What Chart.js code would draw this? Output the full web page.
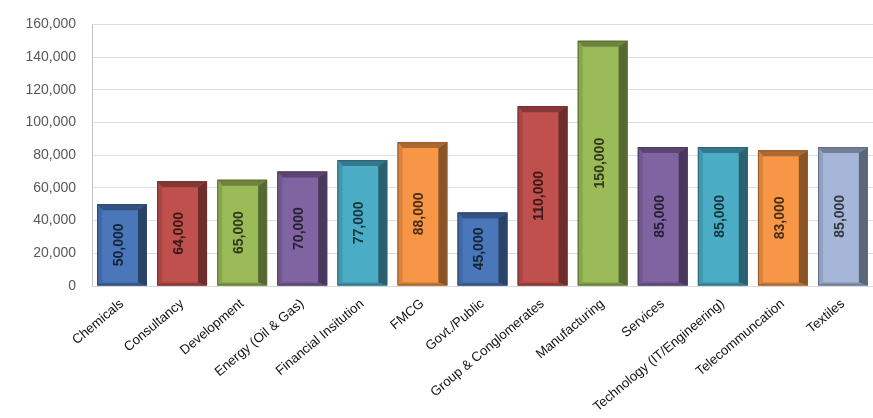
<!DOCTYPE html>
<html>
<head>
<meta charset="utf-8">
<script src="https://cdn.jsdelivr.net/npm/chart.js@4.4.1/dist/chart.umd.min.js"></script>
<style>
  html, body { margin: 0; padding: 0; background: #fff; }
  #wrap { width: 873px; height: 418px; }
</style>
</head>
<body>
<div id="wrap"><canvas id="salaryChart"></canvas></div>
<script>
// average salary by sector
const sectors = ['Chemicals', 'Consultancy', 'Development', 'Energy (Oil & Gas)', 'Financial Insitution',
  'FMCG', 'Govt./Public', 'Group & Conglomerates', 'Manufacturing', 'Services',
  'Technology (IT/Engineering)', 'Telecommuncation', 'Textiles'];
const salaries = [50000, 64000, 65000, 70000, 77000, 88000, 45000, 110000, 150000, 85000, 85000, 83000, 85000];
const barColors = ['#4a76ba', '#c0504d', '#9bbb59', '#8064a2', '#4bacc6', '#f79646',
  '#4a76ba', '#c0504d', '#9bbb59', '#8064a2', '#4bacc6', '#f79646', '#a5b6d8'];
const yMax = 160000;
const yStep = 20000;

function shade(hex, f){
  const n = parseInt(hex.slice(1), 16);
  const r = Math.round(((n >> 16) & 255) * f);
  const g = Math.round(((n >> 8) & 255) * f);
  const b = Math.round((n & 255) * f);
  return 'rgb(' + r + ',' + g + ',' + b + ')';
}

function poly(ctx, pts, fill){
  ctx.beginPath();
  ctx.moveTo(pts[0][0], pts[0][1]);
  for (let k = 1; k < pts.length; k++) ctx.lineTo(pts[k][0], pts[k][1]);
  ctx.closePath();
  ctx.fillStyle = fill;
  ctx.fill();
}

// bevelled edges + rotated value label on every bar
const bevelPlugin = {
  id: 'bevel',
  afterDatasetsDraw(chart){
    const ctx = chart.ctx;
    const meta = chart.getDatasetMeta(0);
    meta.data.forEach((bar, i) => {
      const p = bar.getProps(['x', 'y', 'base', 'width'], true);
      const l = p.x - p.width / 2, r = p.x + p.width / 2, t = p.y, b = p.base;
      const col = barColors[i];
      const bt = 6, br = 9, bl = 5, bb = 3;
      ctx.save();
      poly(ctx, [[l, t], [r, t], [r - br, t + bt], [l + bl, t + bt]], shade(col, 0.7));
      poly(ctx, [[l, t], [l + bl, t + bt], [l + bl, b - bb], [l, b]], shade(col, 0.88));
      poly(ctx, [[l, b], [l + bl, b - bb], [r - br, b - bb], [r, b]], shade(col, 0.8));
      poly(ctx, [[r, t], [r, b], [r - br, b - bb], [r - br, t + bt]], shade(col, 0.56));
      ctx.strokeStyle = shade(col, 0.6);
      ctx.lineWidth = 1;
      ctx.strokeRect(l + 0.5, t + 0.5, p.width - 1, b - t - 1);

      ctx.translate(p.x - 3, (t + b) / 2);
      ctx.rotate(-Math.PI / 2);
      ctx.font = 'bold 14px "Liberation Sans", Arial, sans-serif';
      ctx.textAlign = 'center';
      ctx.textBaseline = 'middle';
      ctx.fillStyle = shade(col, 0.3);
      ctx.fillText(salaries[i].toLocaleString('en-US'), 0, 0);
      ctx.restore();
    });
  }
};

new Chart(document.getElementById('salaryChart'), {
  type: 'bar',
  data: {
    labels: sectors,
    datasets: [{
      data: salaries,
      backgroundColor: barColors,
      borderWidth: 0,
      barPercentage: 0.83,
      categoryPercentage: 1
    }]
  },
  options: {
    responsive: true,
    maintainAspectRatio: false,
    animation: false,
    layout: { padding: { top: 16, right: 0, left: 0, bottom: 0 } },
    plugins: { legend: { display: false }, tooltip: { enabled: false } },
    scales: {
      x: {
        grid: { display: false },
        border: { display: true, color: '#d9d9d9' },
        ticks: {
          color: '#111',
          font: { family: '"Liberation Sans", Arial, sans-serif', size: 13.3 },
          minRotation: 40,
          maxRotation: 40,
          padding: 2,
          autoSkip: false
        },
        afterFit(scale){ scale.height = 132; }
      },
      y: {
        min: 0,
        max: yMax,
        grid: { color: '#dedede', drawTicks: false },
        border: { display: true, color: '#c4c4c4' },
        ticks: {
          stepSize: yStep,
          color: '#595959',
          padding: 16,
          font: { family: '"Liberation Sans", Arial, sans-serif', size: 14 },
          callback: v => v.toLocaleString('en-US')
        },
        afterFit(scale){ scale.width = 92; }
      }
    }
  },
  plugins: [bevelPlugin]
});
</script>
</body>
</html>
